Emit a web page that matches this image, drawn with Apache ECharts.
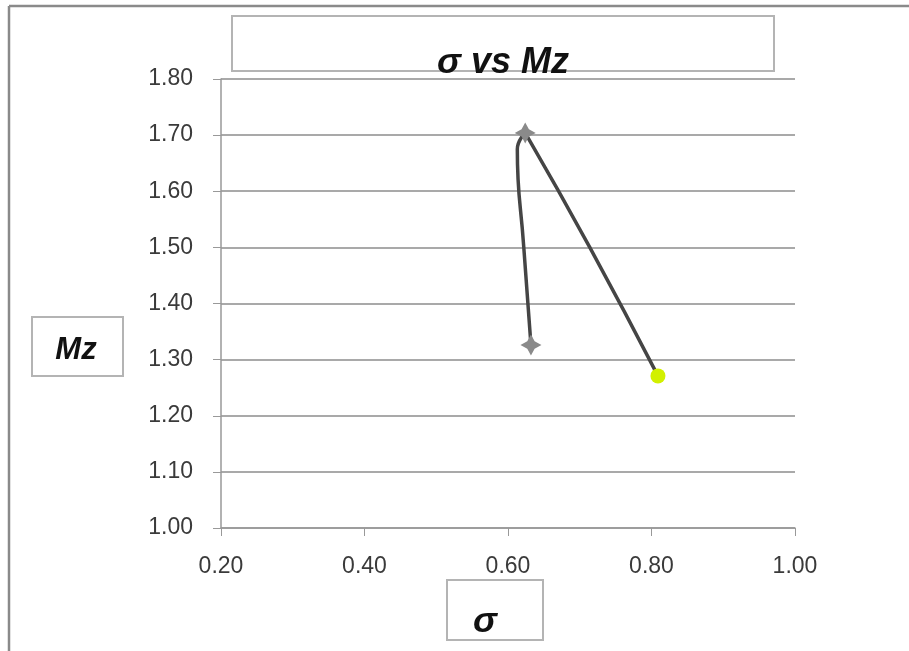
<!DOCTYPE html>
<html>
<head>
<meta charset="utf-8">
<script src="https://cdn.jsdelivr.net/npm/echarts@6/dist/echarts.min.js"></script>
<style>html,body{margin:0;padding:0;background:#fff;}#c{width:909px;height:651px;}</style>
</head>
<body>
<div id="c"></div>
<script>
// Data (points along the drawn curve)
// rising branch: start -> peak
const sigmaUp = [0.632, 0.622, 0.613, 0.624];
const mzUp    = [1.326, 1.500, 1.675, 1.704];
// falling branch: peak -> end
const sigmaDown = [0.624, 0.714, 0.809];
const mzDown    = [1.704, 1.500, 1.271];
const xTicks = [0.20, 0.40, 0.60, 0.80, 1.00];
const yTicks = [1.00, 1.10, 1.20, 1.30, 1.40, 1.50, 1.60, 1.70, 1.80];
const titleText = 'σ vs Mz';
const xName = 'σ';
const yName = 'Mz';

const starPath = 'path://M0,-10 L3.5,-3.5 L10,0 L3.5,3.5 L0,10 L-3.5,3.5 L-10,0 L-3.5,-3.5 Z';
const starItem = { symbol: starPath, symbolSize: 21, itemStyle: { color: '#8a8a8a' } };
const dotItem = { symbol: 'circle', symbolSize: 15, itemStyle: { color: '#d2f000' } };

const upData = sigmaUp.map((s, i) => {
  const isEnd = i === 0 || i === sigmaUp.length - 1;
  return Object.assign({ value: [s, mzUp[i]] }, isEnd ? starItem : { symbol: 'none' });
});
const downData = sigmaDown.map((s, i) => {
  const isLast = i === sigmaDown.length - 1;
  return Object.assign({ value: [s, mzDown[i]] }, isLast ? dotItem : { symbol: 'none' });
});

const chart = echarts.init(document.getElementById('c'), null, { renderer: 'canvas' });
const labelFont = { fontFamily: 'Liberation Sans', fontSize: 23, color: '#3a3a3a' };
const lineStyle = { color: '#454545', width: 3.5 };
chart.setOption({
  animation: false,
  backgroundColor: '#fff',
  grid: { left: 221, right: 114, top: 79, bottom: 123, containLabel: false },
  xAxis: {
    type: 'value', min: xTicks[0], max: xTicks[xTicks.length - 1], interval: 0.2,
    axisLine: { show: true, lineStyle: { color: '#999', width: 1.5 } },
    axisTick: { show: true, length: 8, lineStyle: { color: '#999' } },
    splitLine: { show: false },
    axisLabel: Object.assign({ margin: 27, formatter: v => v.toFixed(2) }, labelFont)
  },
  yAxis: {
    type: 'value', min: yTicks[0], max: yTicks[yTicks.length - 1], interval: 0.1,
    axisLine: { show: true, lineStyle: { color: '#999', width: 1.5 } },
    axisTick: { show: true, length: 8, lineStyle: { color: '#999' } },
    splitLine: { show: true, lineStyle: { color: '#8c8c8c', width: 1.5 } },
    axisLabel: Object.assign({ margin: 28, formatter: v => v.toFixed(2) }, labelFont)
  },
  series: [
    { type: 'line', smooth: 0.5, data: downData, showAllSymbol: true, lineStyle: lineStyle, z: 3 },
    { type: 'line', smooth: 0.5, data: upData, showAllSymbol: true, lineStyle: lineStyle, z: 4 }
  ],
  graphic: [
    { type: 'line', shape: { x1: 9, y1: 6, x2: 909, y2: 6 }, style: { stroke: '#8a8a8a', lineWidth: 2.5 }, silent: true },
    { type: 'line', shape: { x1: 9, y1: 6, x2: 9, y2: 651 }, style: { stroke: '#8a8a8a', lineWidth: 2.5 }, silent: true },
    { type: 'rect', shape: { x: 232, y: 16, width: 542, height: 55 }, style: { fill: '#fff', stroke: '#b4b4b4', lineWidth: 2 }, z: 10 },
    { type: 'text', style: { x: 503, y: 63, text: titleText, font: 'italic bold 36px "Liberation Sans"', fill: '#111', textAlign: 'center', textVerticalAlign: 'middle' }, z: 11 },
    { type: 'rect', shape: { x: 32, y: 317, width: 91, height: 59 }, style: { fill: '#fff', stroke: '#b4b4b4', lineWidth: 2 }, z: 10 },
    { type: 'text', style: { x: 76, y: 350, text: yName, font: 'italic bold 31px "Liberation Sans"', fill: '#111', textAlign: 'center', textVerticalAlign: 'middle' }, z: 11 },
    { type: 'rect', shape: { x: 447, y: 580, width: 96, height: 60 }, style: { fill: '#fff', stroke: '#b4b4b4', lineWidth: 2 }, z: 10 },
    { type: 'text', style: { x: 485, y: 622, text: xName, font: 'italic bold 36px "Liberation Sans"', fill: '#111', textAlign: 'center', textVerticalAlign: 'middle' }, z: 11 }
  ]
});
</script>
</body>
</html>
